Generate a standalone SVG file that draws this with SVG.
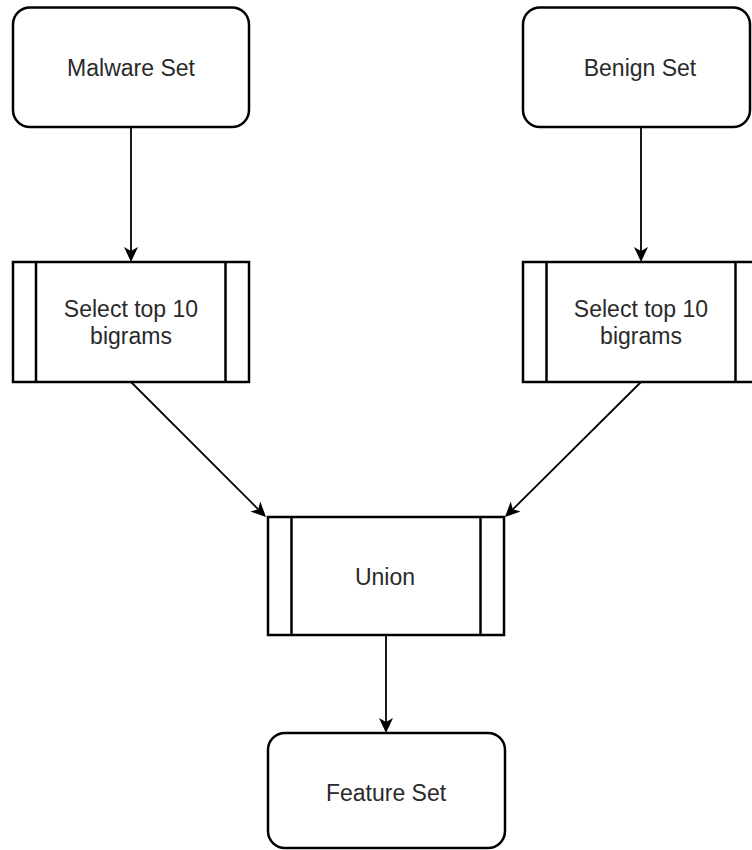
<svg xmlns="http://www.w3.org/2000/svg" width="752" height="850" viewBox="0 0 752 850">
<style>
.box{fill:#fff;stroke:#000;stroke-width:2.5}
.div{stroke:#000;stroke-width:2.5}
.lbl{font-family:"Liberation Sans",Arial,sans-serif;font-size:23px;fill:#2a2a2a;text-anchor:middle}
.edge{fill:none;stroke:#000;stroke-width:1.8}
</style>
<defs>
<marker id="arr" markerUnits="userSpaceOnUse" viewBox="0 -8 16 16" markerWidth="16" markerHeight="16" refX="4" refY="0" orient="auto">
<path d="M15,0 L0,-7 L4,0 L0,7 Z" fill="#000"/>
</marker>
</defs>
<rect width="752" height="850" fill="#fff"/>
<g id="edges">
<path class="edge" d="M131,127 L131,251" marker-end="url(#arr)"/>
<path class="edge" d="M641,127 L641,251" marker-end="url(#arr)"/>
<path class="edge" d="M131,382 L258.2,509.3" marker-end="url(#arr)"/>
<path class="edge" d="M641,382 L512.8,509.3" marker-end="url(#arr)"/>
<path class="edge" d="M386,635 L386,722" marker-end="url(#arr)"/>
</g>
<g id="malware">
<rect class="box" x="13" y="7.5" width="236" height="119.5" rx="17"/>
<text class="lbl" x="131" y="76">Malware Set</text>
</g>
<g id="benign">
<rect class="box" x="523" y="7.5" width="227" height="119.5" rx="17"/>
<text class="lbl" x="640" y="76">Benign Set</text>
</g>
<g id="select-left">
<rect class="box" x="13" y="262" width="236" height="120"/>
<line class="div" x1="36" y1="262" x2="36" y2="382"/>
<line class="div" x1="225.5" y1="262" x2="225.5" y2="382"/>
<text class="lbl" x="131" y="317">Select top 10</text>
<text class="lbl" x="131" y="344">bigrams</text>
</g>
<g id="select-right">
<rect class="box" x="523" y="262" width="236" height="120"/>
<line class="div" x1="546.5" y1="262" x2="546.5" y2="382"/>
<line class="div" x1="735.5" y1="262" x2="735.5" y2="382"/>
<text class="lbl" x="641" y="317">Select top 10</text>
<text class="lbl" x="641" y="344">bigrams</text>
</g>
<g id="union">
<rect class="box" x="268" y="517" width="236" height="118"/>
<line class="div" x1="291.5" y1="517" x2="291.5" y2="635"/>
<line class="div" x1="480.5" y1="517" x2="480.5" y2="635"/>
<text class="lbl" x="385" y="585">Union</text>
</g>
<g id="feature">
<rect class="box" x="268" y="733" width="237" height="115" rx="17"/>
<text class="lbl" x="386" y="801">Feature Set</text>
</g>
</svg>
